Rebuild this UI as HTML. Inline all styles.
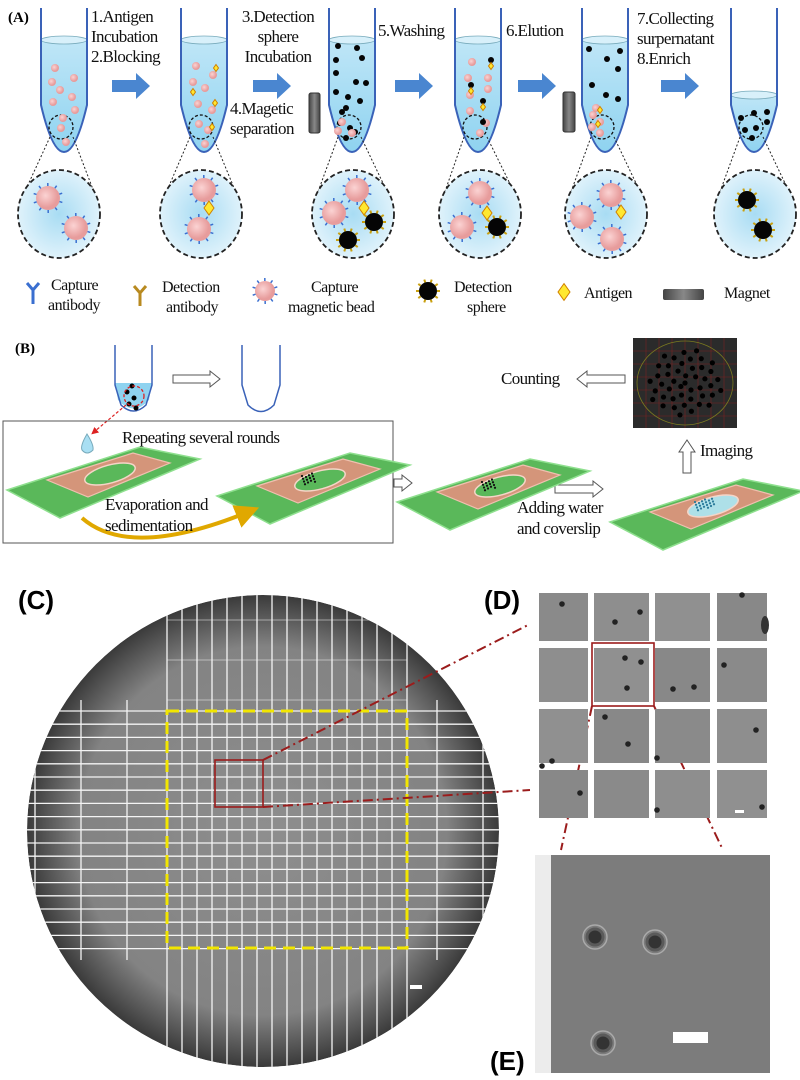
<!DOCTYPE html>
<html><head><meta charset="utf-8"><style>
html,body{margin:0;padding:0;background:#fff;}
svg{display:block;}
.s{font-family:"Liberation Serif",serif;fill:#111;}
.b{font-family:"Liberation Sans",sans-serif;font-weight:bold;fill:#000;}
</style></head><body>
<svg id="m" width="800" height="1080" viewBox="0 0 800 1080" xmlns="http://www.w3.org/2000/svg">
<defs>
<linearGradient id="liq" x1="0" y1="0" x2="0" y2="1"><stop offset="0" stop-color="#bfe6f7"/><stop offset="1" stop-color="#8fd3f0"/></linearGradient>
<radialGradient id="zc"><stop offset="0" stop-color="#a8dcf3"/><stop offset="1" stop-color="#dff2fb"/></radialGradient>
<radialGradient id="bead" cx="0.4" cy="0.4"><stop offset="0" stop-color="#fbd3d3"/><stop offset="1" stop-color="#e79c9c"/></radialGradient>
<radialGradient id="wafer" cx="0.5" cy="0.5"><stop offset="0" stop-color="#8e8e8e"/><stop offset="0.78" stop-color="#838383"/><stop offset="0.92" stop-color="#555"/><stop offset="1" stop-color="#3a3a3a"/></radialGradient>
<linearGradient id="mag" x1="0" x2="1"><stop offset="0" stop-color="#444"/><stop offset="0.5" stop-color="#888"/><stop offset="1" stop-color="#444"/></linearGradient>
<marker id="ya" markerWidth="6" markerHeight="6" refX="3" refY="3" orient="auto"><path d="M0,0 L6,3 L0,6 z" fill="#e0a800"/></marker>
<marker id="ra" markerWidth="6" markerHeight="6" refX="3" refY="3" orient="auto"><path d="M0,0 L6,3 L0,6 z" fill="#d22"/></marker>
<clipPath id="wc"><circle cx="263" cy="831" r="236"/></clipPath>
</defs>
<g id="A"></g>
<text class="b" x="8" y="22" font-size="15" style="font-family:'Liberation Serif',serif">(A)</text>
<g class="s" font-size="17" style="letter-spacing:-0.6px">
<text x="91" y="22">1.Antigen</text><text x="91" y="42">Incubation</text><text x="91" y="62">2.Blocking</text>
<text x="278" y="22" text-anchor="middle">3.Detection</text><text x="278" y="42" text-anchor="middle">sphere</text><text x="278" y="62" text-anchor="middle">Incubation</text>
<text x="230" y="114">4.Magetic</text><text x="230" y="134">separation</text>
<text x="378" y="36">5.Washing</text><text x="506" y="36">6.Elution</text>
<text x="637" y="24">7.Collecting</text><text x="637" y="44">surpernatant</text><text x="637" y="64">8.Enrich</text>
</g>
<g class="s" font-size="16" style="letter-spacing:-0.5px">
<text x="51" y="290">Capture</text><text x="48" y="310">antibody</text>
<text x="162" y="292">Detection</text><text x="166" y="312">antibody</text>
<text x="311" y="292">Capture</text><text x="288" y="312">magnetic bead</text>
<text x="454" y="292">Detection</text><text x="467" y="312">sphere</text>
<text x="584" y="298">Antigen</text><text x="724" y="298">Magnet</text>
</g>
<text x="15" y="353" font-size="15" style="font-family:'Liberation Serif',serif;font-weight:bold">(B)</text>
<g id="B"></g>
<g class="s" font-size="17" style="letter-spacing:-0.6px">
<text x="122" y="443">Repeating several rounds</text>
<text x="105" y="510">Evaporation and</text><text x="105" y="531">sedimentation</text>
<text x="517" y="513">Adding water</text><text x="517" y="534">and coverslip</text>
<text x="501" y="384">Counting</text><text x="700" y="456">Imaging</text>
</g>
<text class="b" x="18" y="609" font-size="26">(C)</text>
<g clip-path="url(#wc)">
<circle cx="263" cy="831" r="236" fill="url(#wafer)"/>
<g id="grid" stroke="#f4f4f4" stroke-width="1.3"></g>
</g>
<rect x="167" y="711" width="240" height="237" fill="none" stroke="#f2e600" stroke-width="3" stroke-dasharray="12,7"/>
<rect x="215" y="760" width="48" height="47" fill="none" stroke="#9b1c1c" stroke-width="1.6"/>
<rect x="410" y="985" width="12" height="4" fill="#fff"/>
<g stroke="#9b1c1c" stroke-width="2" stroke-dasharray="10,4,2,4" fill="none">
<line x1="263" y1="760" x2="530" y2="624"/><line x1="263" y1="807" x2="530" y2="790"/>
<line x1="592" y1="706" x2="561" y2="850"/><line x1="654" y1="706" x2="723" y2="850"/>
</g>
<text class="b" x="484" y="609" font-size="26">(D)</text>
<g id="D"></g>
<rect x="592" y="643" width="62" height="63" fill="none" stroke="#9b1c1c" stroke-width="1.6"/>
<rect x="535" y="855" width="18" height="218" fill="#ececec"/>
<rect x="551" y="855" width="219" height="218" fill="#7c7c7c"/>
<g fill="#333" stroke="#5a5a5a" stroke-width="3">
<circle cx="595" cy="937" r="8"/><circle cx="655" cy="942" r="8"/><circle cx="603" cy="1043" r="8"/>
</g>
<g fill="none" stroke="#aaa" stroke-width="1.5"><circle cx="595" cy="937" r="12"/><circle cx="655" cy="942" r="12"/><circle cx="603" cy="1043" r="12"/></g>
<rect x="673" y="1032" width="35" height="11" fill="#fff"/>
<text class="b" x="490" y="1070" font-size="26">(E)</text>
</svg>
<script>
var NS="http://www.w3.org/2000/svg";
function el(p,t,a){var e=document.createElementNS(NS,t);for(var k in a)e.setAttribute(k,a[k]);p.appendChild(e);return e;}
var A=document.getElementById('A');
var tubes=[64,204,352,478,605,754];
tubes.forEach(function(c,i){
 var l=c-23,r=c+23,top=i==5?95:40;
 var shape="M"+l+",8 L"+l+",105 Q"+(c-12)+",152 "+c+",152 Q"+(c+12)+",152 "+r+",105 L"+r+",8";
 var liq="M"+l+","+top+" L"+l+",105 Q"+(c-12)+",152 "+c+",152 Q"+(c+12)+",152 "+r+",105 L"+r+","+top+" Z";
 el(A,'path',{d:liq,fill:'url(#liq)'});
 el(A,'ellipse',{cx:c,cy:top,rx:23,ry:4,fill:'#d8f0fa',stroke:'#7ab',"stroke-width":0.8});
 el(A,'path',{d:shape,fill:'none',stroke:'#3a62b8','stroke-width':2});
 el(A,'circle',{cx:c-3,cy:127,r:12,fill:'none',stroke:'#111','stroke-width':1.3,'stroke-dasharray':'3,2'});
 var zc=[59,201,353,480,606,755][i];
 el(A,'line',{x1:c-14,y1:137,x2:zc-38,y2:200,stroke:'#222','stroke-dasharray':'2,2'});
 el(A,'line',{x1:c+9,y1:137,x2:zc+38,y2:200,stroke:'#222','stroke-dasharray':'2,2'});
 el(A,'ellipse',{cx:zc,cy:214,rx:41,ry:44,fill:'url(#zc)',stroke:'#222','stroke-width':1.8,'stroke-dasharray':'5,3'});
});
[112,253,395,518,661].forEach(function(x){
 el(A,'path',{d:"M"+x+",80 L"+(x+24)+",80 L"+(x+24)+",73 L"+(x+38)+",86 L"+(x+24)+",99 L"+(x+24)+",92 L"+x+",92 Z",fill:'#4a86d0'});
});
el(A,'rect',{x:309,y:93,width:11,height:40,rx:2,fill:'url(#mag)',stroke:'#333'});
el(A,'rect',{x:563,y:92,width:12,height:40,rx:2,fill:'url(#mag)',stroke:'#333'});
function bead(x,y,r){el(A,'circle',{cx:x,cy:y,r:r,fill:'url(#bead)'});
 if(r>6){for(var k=0;k<10;k++){var a=k*Math.PI/5+0.3;el(A,'path',{d:"M"+(x+Math.cos(a)*r)+","+(y+Math.sin(a)*r)+" l"+Math.cos(a)*3+","+Math.sin(a)*3,stroke:'#3a6fd0','stroke-width':1.5});}}}
function sph(x,y,r){if(r>6){for(var k=0;k<10;k++){var a=k*Math.PI/5;el(A,'path',{d:"M"+(x+Math.cos(a)*r)+","+(y+Math.sin(a)*r)+" l"+Math.cos(a)*3+","+Math.sin(a)*3,stroke:'#c9a010','stroke-width':2});}}
 el(A,'circle',{cx:x,cy:y,r:r,fill:'#050505'});}
function dia(x,y,s){el(A,'path',{d:"M"+x+","+(y-s*1.4)+" L"+(x+s)+","+y+" L"+x+","+(y+s*1.4)+" L"+(x-s)+","+y+" Z",fill:'#ffe830',stroke:'#d08000','stroke-width':1});}
[[55,68],[52,82],[74,78],[60,90],[72,97],[53,102],[75,110],[63,118],[61,128],[66,142]].forEach(function(p){bead(p[0],p[1],4);});
[[196,66],[213,75],[193,82],[205,88],[198,104],[212,110],[199,124],[208,130],[205,144]].forEach(function(p){bead(p[0],p[1],4);});
[[216,68],[193,92],[215,103],[212,127]].forEach(function(p){dia(p[0],p[1],2.5);});
[[338,46],[357,48],[336,60],[362,58],[336,73],[356,82],[366,83],[336,92],[348,97],[346,108],[360,101],[342,112],[340,123],[350,128],[355,132],[346,138]].forEach(function(p){sph(p[0],p[1],3);});
[[342,122],[352,133],[338,131]].forEach(function(p){bead(p[0],p[1],4);});
[[472,62],[468,78],[488,78],[470,95],[488,89],[470,111],[486,123],[480,133]].forEach(function(p){bead(p[0],p[1],4);});
[[491,60],[471,85],[483,101],[483,122]].forEach(function(p){sph(p[0],p[1],3);});
[[491,66],[471,91],[483,107]].forEach(function(p){dia(p[0],p[1],2.5);});
[[589,49],[620,51],[607,59],[618,69],[592,85],[606,95],[618,99]].forEach(function(p){sph(p[0],p[1],3);});
[[593,115],[600,122],[592,127],[600,133],[596,108]].forEach(function(p){bead(p[0],p[1],4);});
[[600,110],[598,124]].forEach(function(p){dia(p[0],p[1],2.5);});
[[741,118],[754,113],[767,112],[745,130],[756,128],[767,122],[752,138]].forEach(function(p){sph(p[0],p[1],3);});
bead(48,198,12);bead(76,228,12);
bead(204,190,12);bead(199,229,12);dia(209,208,5);
bead(357,190,12);bead(334,213,12);dia(364,208,5);sph(374,222,9);sph(348,240,9);
bead(480,193,12);bead(462,227,12);dia(487,213,5);sph(497,227,9);
bead(611,195,12);bead(582,217,12);bead(612,239,12);dia(621,212,5);
sph(747,200,9);sph(763,230,9);
el(A,'path',{d:"M27,283 L33,290 L39,283 M33,290 L33,304",stroke:'#3a6fd0','stroke-width':3,fill:'none'});
el(A,'path',{d:"M134,286 L140,293 L146,286 M140,293 L140,306",stroke:'#b88a20','stroke-width':3,fill:'none'});
bead(265,291,10);sph(428,291,9);dia(564,292,6);
el(A,'rect',{x:663,y:289,width:41,height:11,rx:2,fill:'url(#mag)'});
var B=document.getElementById('B');
function tb(l,r,top,bot,liq){var c=(l+r)/2;
 if(liq){el(B,'path',{d:"M"+l+",383 L"+(l+3)+",400 Q"+c+","+(bot+4)+" "+(r-3)+",400 L"+r+",383 Z",fill:'#8fd3f0'});}
 el(B,'path',{d:"M"+l+","+top+" L"+l+",385 L"+(l+6)+",405 Q"+c+","+(bot+4)+" "+(r-6)+",405 L"+r+",385 L"+r+","+top,fill:'none',stroke:'#3a62b8','stroke-width':1.5});}
tb(115,152,345,413,true);tb(242,280,345,414,false);
[[127,392],[134,398],[129,404],[136,408],[132,386]].forEach(function(p){el(B,'circle',{cx:p[0],cy:p[1],r:2.5,fill:'#000'});});
el(B,'circle',{cx:134,cy:396,r:10,fill:'none',stroke:'#d22','stroke-width':1.3,'stroke-dasharray':'3,2'});
el(B,'line',{x1:126,y1:405,x2:94,y2:432,stroke:'#d22','stroke-width':1.2,'stroke-dasharray':'3,2','marker-end':'url(#ra)'});
el(B,'path',{d:"M87,434 Q80,446 82,450 Q87,456 93,450 Q94,445 87,434 Z",fill:'#a9dff3',stroke:'#7ab'});
function hollow(x1,y,x2,dir){var s=dir;
 var d="M"+x1+","+(y-4)+" L"+(x2-s*10)+","+(y-4)+" L"+(x2-s*10)+","+(y-8)+" L"+x2+","+y+" L"+(x2-s*10)+","+(y+8)+" L"+(x2-s*10)+","+(y+4)+" L"+x1+","+(y+4)+" Z";
 el(B,'path',{d:d,fill:'#fff',stroke:'#555','stroke-width':1});}
hollow(173,379,220,1);hollow(394,483,412,1);hollow(555,489,603,1);hollow(625,379,577,-1);
el(B,'path',{d:"M683,473 L683,452 L679,452 L687,440 L695,452 L691,452 L691,473 Z",fill:'#fff',stroke:'#555'});
el(B,'rect',{x:3,y:421,width:390,height:122,fill:'none',stroke:'#555','stroke-width':1});
function slide(dx,dy,content){var g=el(B,'g',{transform:"translate("+dx+","+dy+")"});
 el(g,'path',{d:"M7,490 L140,447 L200,459 L60,518 Z",fill:'#5ab85a',stroke:'#8fe08f','stroke-width':1.5});
 el(g,'path',{d:"M47,480 L133,453 L170,463 L88,497 Z",fill:'#d4957a',stroke:'#f0c0b0','stroke-width':1.2});
 el(g,'ellipse',{cx:110,cy:474,rx:26,ry:9,transform:"rotate(-15 110 474)",fill:content==2?'#aee0e8':'#5ab85a',stroke:'#f5d5c8','stroke-width':1.5});
 if(content>=1){for(var i=0;i<(content==2?20:14);i++){el(g,'circle',{cx:92+((i*37)%36),cy:470+((i*13)%10)-((i*37)%36)*0.25,r:1.1,fill:content==2?'#2a7a9a':'#111'});}}
 return g;}
slide(0,0,0);slide(210,6,1);slide(390,12,1);slide(603,32,2);
el(B,'path',{d:"M82,518 Q130,560 248,512",fill:'none',stroke:'#e0a800','stroke-width':4,'marker-end':'url(#ya)'});
el(B,'rect',{x:633,y:338,width:104,height:90,fill:'#2b2b2b'});
for(var i=1;i<8;i++){el(B,'line',{x1:633+i*13,y1:338,x2:633+i*13,y2:428,stroke:'#7a2020','stroke-width':0.6});}
for(var i=1;i<7;i++){el(B,'line',{x1:633,y1:338+i*13,x2:737,y2:338+i*13,stroke:'#7a2020','stroke-width':0.6});}
el(B,'ellipse',{cx:685,cy:383,rx:48,ry:42,fill:'none',stroke:'#7a7a20','stroke-width':0.8});
for(var i=0;i<45;i++){var a=i*2.399,rr=Math.sqrt(i/45)*38;el(B,'circle',{cx:685+Math.cos(a)*rr,cy:383+Math.sin(a)*rr*0.9,r:2.6,fill:'#000'});}
var G=document.getElementById('grid');
for(var x=167;x<=408;x+=15){el(G,'line',{x1:x,y1:590,x2:x,y2:1070});}
for(var x=35;x<167;x+=46){el(G,'line',{x1:x,y1:700,x2:x,y2:960});}
for(var x=437;x<500;x+=46){el(G,'line',{x1:x,y1:700,x2:x,y2:960});}
for(var y=711;y<=949;y+=13.2){el(G,'line',{x1:25,y1:y,x2:500,y2:y});}
for(var y=700;y>600;y-=40){el(G,'line',{x1:167,y1:y,x2:407,y2:y,'stroke-width':0.6});}
var D=document.getElementById('D');
var cx=[[539,49],[594,55],[655,55],[717,50]],cy=[[593,48],[648,54],[709,54],[770,48]];
var shades=['#8a8a8a','#8e8e8e','#909090','#888'];
cy.forEach(function(r,j){cx.forEach(function(c,i){el(D,'rect',{x:c[0],y:r[0],width:c[1],height:r[1],fill:shades[(i+j)%4]});});});
[[562,604],[615,622],[640,612],[625,658],[641,662],[627,688],[605,717],[628,744],[657,758],[724,665],[673,689],[694,687],[756,730],[542,766],[552,761],[580,793],[657,810],[762,807],[742,595]].forEach(function(p){el(D,'circle',{cx:p[0],cy:p[1],r:2.8,fill:'#222'});});
el(D,'rect',{x:735,y:810,width:9,height:3,fill:'#fff'});
el(D,'ellipse',{cx:765,cy:625,rx:4,ry:9,fill:'#333'});
</script>
</body></html>
